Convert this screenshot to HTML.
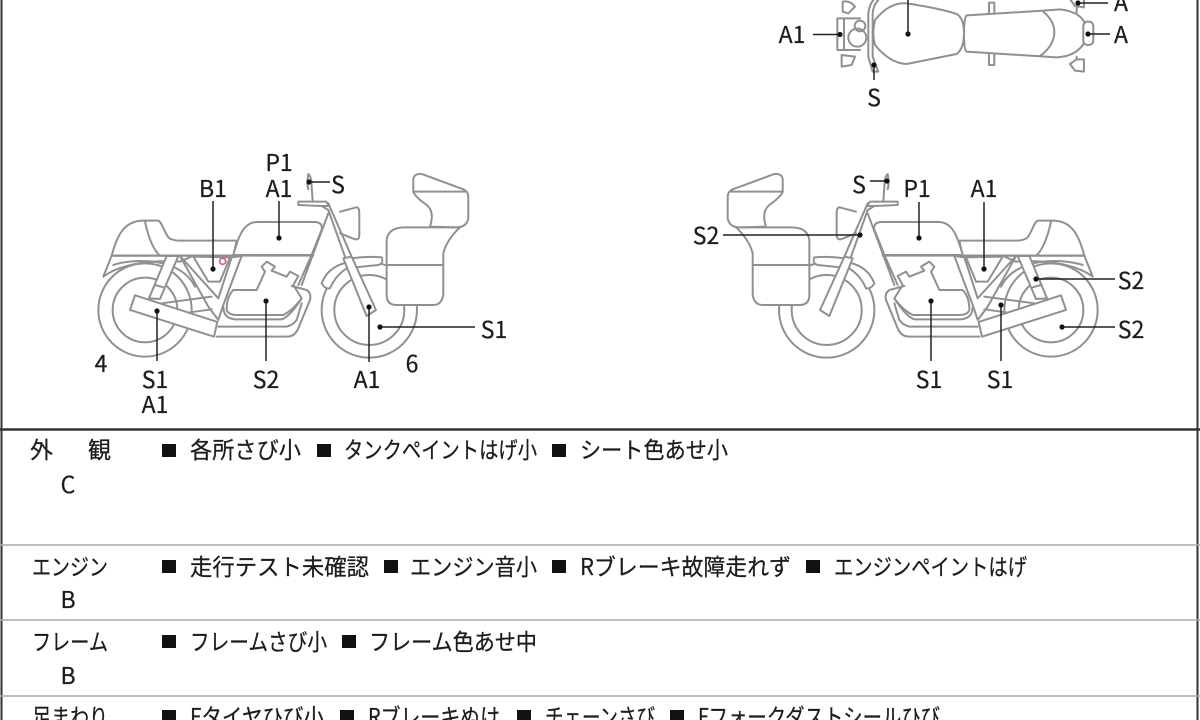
<!DOCTYPE html>
<html lang="ja"><head><meta charset="utf-8"><title>車両状態図</title>
<style>
html,body{margin:0;padding:0;background:#fff;width:1200px;height:720px;overflow:hidden}
svg{display:block}
.d{fill:none;stroke:#909090;stroke-width:6;stroke-linejoin:round;stroke-linecap:round}
.w{fill:#fff}
.l{stroke:#222;stroke-width:1.5;fill:none}
.j{font-family:"Noto Sans CJK JP","Liberation Sans",sans-serif;font-size:23px;fill:#1c1c1c;stroke:#1c1c1c;stroke-width:.25}
</style></head><body>
<svg width="1200" height="720" viewBox="0 0 1200 720" xmlns="http://www.w3.org/2000/svg">
<defs>
<g id="bike">
  <circle class="d" cx="195" cy="480" r="140"/>
  <circle class="d" cx="195" cy="480" r="97"/>
  <circle class="d" cx="868" cy="480" r="143"/>
  <circle class="d" cx="868" cy="480" r="105"/>
  <path class="d w" d="M70,380 L95,317 H340 L300,335 C240,330 130,335 70,380Z" />
  <path class="d" d="M100,345 C160,325 300,320 345,410"/>
  <path class="d w" d="M95,317 C110,260 130,215 185,212 L235,212 C245,215 250,240 265,262 Q275,272 300,272 L470,272 L460,317Z"/>
  <path class="d" d="M195,215 C205,260 220,300 240,317"/>
  <path class="d w" d="M260,318 L207,445 L240,447 L295,318Z"/>
  <path class="d" d="M225,405 L250,412"/>
  <path class="d w" d="M300,318 L415,445 L455,322 L485,318 L430,465 L415,510 L385,470Z"/>
  <path class="d w" d="M340,320 L385,395 L420,395 L450,322Z"/>
  <path class="d" d="M95,317 H700"/>
  <path class="d" d="M245,460 L395,440 M310,490 L395,478"/>
  <path class="d w" d="M460,315 C475,260 490,218 530,216 L705,216 Q730,218 725,240 L695,315Z"/>
  <path class="d" d="M745,190 L665,405 M725,240 L695,315 L655,405"/>
  <path class="d w" d="M815,325 Q860,318 905,322 Q912,340 895,345 L825,352Z"/>
  <path class="d w" d="M725,400 Q745,350 800,338 L810,350 Q770,370 750,415 Q735,418 725,400Z"/>
  <path class="d" d="M780,185 L830,172 Q838,172 838,190 L838,255 Q838,270 825,268 L780,250"/>
  <path class="d" d="M745,160 L815,320 M725,168 L745,180 L795,320"/>
  <path class="d w" d="M790,325 L815,320 L888,480 L860,498Z"/>
  <path class="d w" d="M655,155 H738 L748,168 H725 L655,165Z"/>
  <path class="d" d="M685,72 Q695,80 695,110 L698,152 M685,72 Q680,100 685,118"/>
  <path class="d w" d="M460,420 L530,420 L555,365 L545,350 L560,335 L585,350 L575,362 L620,380 L630,365 L655,378 L640,405 L665,445 Q640,480 610,495 L470,495 Q445,495 440,480 Q440,440 460,420Z"/>
  <path class="d" d="M430,470 Q430,505 465,508 L605,508 Q630,500 665,445"/>
  <path class="d" d="M415,530 L620,530 Q640,525 650,510 L665,460"/>
  <path class="d" d="M635,408 L680,420 Q695,430 690,450 L655,535 Q645,560 620,560 L410,560"/>
  <path class="d w" d="M165,436 L412,516 L402,560 L150,480 Z"/>
  <path class="d w" d="M920,270 Q925,232 975,232 L1140,232 Q1100,270 1090,310 L1090,435 Q1085,465 1060,465 L950,465 Q920,465 920,435 Z"/>
  <path class="d" d="M920,345 H1090"/>
  <path class="d w" d="M1000,85 Q1005,70 1025,72 L1150,118 Q1165,125 1165,140 L1165,205 Q1160,232 1130,232 L1050,230 Q1065,185 1040,165 Q1005,140 1000,125Z"/>
  <path class="d" d="M1000,125 H1155"/>
</g>
</defs>

<rect width="1200" height="720" fill="#fff"/>
<g transform="translate(80,150) scale(.3333)"><use href="#bike"/>
  <circle cx="428" cy="334" r="9" fill="none" stroke="#d4606e" stroke-width="5"/></g>
<g transform="translate(1116,150) scale(-.3333,.3333)"><use href="#bike"/></g>

<!-- top view -->
<g transform="translate(760,0) scale(.3333)">
  <path class="d w" d="M248,5 Q270,0 285,20 L265,40 L248,35Z M245,165 L285,170 L275,195 L245,200Z"/>
  <path class="d w" d="M232,55 H252 V150 H232Z"/>
  <path class="d" d="M252,55 H300 M252,150 H300"/>
  <circle class="d w" cx="292" cy="113" r="27"/>
  <circle class="d" cx="300" cy="78" r="16"/>
  <path class="d" d="M325,40 L325,170 L338,215 L355,215 L345,190 L338,170 L338,40 Q340,15 355,0 M325,40 Q328,15 340,0"/>
  <path class="d w" d="M345,60 Q390,5 440,10 Q540,25 590,42 Q612,55 612,100 Q612,145 590,162 L440,192 Q390,190 345,135 Q335,100 345,60Z"/>
  <path class="d w" d="M687,8 H703 V195 H687Z"/>
  <path class="d w" d="M620,46 L850,32 L900,28 Q960,35 975,70 L975,125 Q950,170 890,172 L620,155 Q612,150 612,100 Q612,55 620,46Z"/>
  <path class="d" d="M850,35 Q885,65 883,100 Q880,140 840,168"/>
  <rect class="d w" x="970" y="65" width="30" height="70" rx="13"/>
  <path class="d" d="M932,0 L945,18 L972,22 V0 M950,22 V38 M950,170 V178 L930,192 L945,212 L972,215 V178 L950,178"/>
</g>

<!-- leaders -->
<g class="l">
  <path d="M309,182H330M213,201V269M279,201V238M380,327H475M369,307V362M266,301V361M157,311V361"/>
  <path d="M870,181H887M919,202V238M984,202V269M723,235H860M1036,279H1115M1062,327H1115M931,301V361M1001,305V361"/>
  <path d="M813,34.5H840M908,0V34M874,65V80M1088,34H1110M1078,3H1108"/>
</g>
<g fill="#111">
  <circle cx="309" cy="182" r="2.6"/><circle cx="213" cy="269" r="2.6"/><circle cx="279" cy="238" r="2.6"/><circle cx="380" cy="327" r="2.6"/><circle cx="369" cy="307" r="2.6"/><circle cx="266" cy="301" r="2.6"/><circle cx="157" cy="311" r="2.6"/>
  <circle cx="887" cy="181" r="2.6"/><circle cx="919" cy="238" r="2.6"/><circle cx="984" cy="269" r="2.6"/><circle cx="860" cy="235" r="2.6"/><circle cx="1036" cy="279" r="2.6"/><circle cx="1062" cy="327" r="2.6"/><circle cx="931" cy="301" r="2.6"/><circle cx="1001" cy="305" r="2.6"/>
  <circle cx="840" cy="34.5" r="2.6"/><circle cx="908" cy="34" r="2.6"/><circle cx="874" cy="65" r="2.6"/><circle cx="1088" cy="34" r="2.6"/><circle cx="1078" cy="3" r="2.6"/>
</g>

<!-- labels -->
<g class="j">
  <text x="279" y="171" text-anchor="middle">P1</text><text x="279" y="197" text-anchor="middle">A1</text>
  <text x="213" y="197" text-anchor="middle">B1</text><text x="338" y="193" text-anchor="middle">S</text>
  <text x="494" y="338" text-anchor="middle">S1</text><text x="367" y="388" text-anchor="middle">A1</text>
  <text x="266" y="388" text-anchor="middle">S2</text><text x="155" y="388" text-anchor="middle">S1</text>
  <text x="155" y="413" text-anchor="middle">A1</text><text x="101" y="372" text-anchor="middle">4</text>
  <text x="412" y="372" text-anchor="middle">6</text>
  <text x="859" y="193" text-anchor="middle">S</text><text x="917" y="197" text-anchor="middle">P1</text>
  <text x="984" y="197" text-anchor="middle">A1</text><text x="706" y="244" text-anchor="middle">S2</text>
  <text x="1131" y="289" text-anchor="middle">S2</text><text x="1131" y="338" text-anchor="middle">S2</text>
  <text x="929" y="388" text-anchor="middle">S1</text><text x="1000" y="388" text-anchor="middle">S1</text>
  <text x="792" y="43" text-anchor="middle">A1</text><text x="874" y="106" text-anchor="middle">S</text>
  <text x="1121" y="43" text-anchor="middle">A</text><text x="1121" y="11" text-anchor="middle">A</text>
</g>

<!-- table lines -->
<path d="M1.5,0V720" stroke="#333" stroke-width="2" fill="none"/>
<path d="M1197.5,0V720" stroke="#333" stroke-width="2" fill="none"/>
<path d="M0,429.5H1200" stroke="#333" stroke-width="2.5" fill="none"/>
<path d="M0,545H1200M0,620H1200M0,696H1200" stroke="#aaa" stroke-width="1.5" fill="none"/>

<!-- squares -->
<g fill="#111">
  <rect x="162" y="444" width="14" height="13"/><rect x="317" y="444" width="14" height="13"/><rect x="552" y="444" width="14" height="13"/>
  <rect x="162" y="560" width="14" height="13"/><rect x="384" y="560" width="14" height="13"/><rect x="552" y="560" width="14" height="13"/><rect x="806" y="560" width="14" height="13"/>
  <rect x="162" y="635" width="14" height="13"/><rect x="342" y="635" width="14" height="13"/>
  <rect x="162" y="710" width="14" height="13"/><rect x="340" y="710" width="14" height="13"/><rect x="517" y="710" width="14" height="13"/><rect x="670" y="710" width="14" height="13"/>
</g>

<g class="j">
  <text x="30" y="458">外</text><text x="88" y="458">観</text><text x="68" y="493" text-anchor="middle">C</text>
  <text x="190" y="458" textLength="111" lengthAdjust="spacingAndGlyphs">各所さび小</text>
  <text x="344" y="458" textLength="193" lengthAdjust="spacingAndGlyphs">タンクペイントはげ小</text>
  <text x="580" y="458" textLength="148" lengthAdjust="spacingAndGlyphs">シート色あせ小</text>

  <text x="32" y="575" textLength="76" lengthAdjust="spacingAndGlyphs">エンジン</text><text x="68" y="608" text-anchor="middle">B</text>
  <text x="190" y="575" textLength="179" lengthAdjust="spacingAndGlyphs">走行テスト未確認</text>
  <text x="410" y="575" textLength="127" lengthAdjust="spacingAndGlyphs">エンジン音小</text>
  <text x="580" y="575" textLength="211" lengthAdjust="spacingAndGlyphs">Rブレーキ故障走れず</text>
  <text x="834" y="575" textLength="193" lengthAdjust="spacingAndGlyphs">エンジンペイントはげ</text>

  <text x="32" y="650" textLength="76" lengthAdjust="spacingAndGlyphs">フレーム</text><text x="68" y="684" text-anchor="middle">B</text>
  <text x="190" y="650" textLength="137" lengthAdjust="spacingAndGlyphs">フレームさび小</text>
  <text x="369" y="650" textLength="168" lengthAdjust="spacingAndGlyphs">フレーム色あせ中</text>

  <text x="32" y="725" textLength="76" lengthAdjust="spacingAndGlyphs">足まわり</text>
  <text x="190" y="725" textLength="134" lengthAdjust="spacingAndGlyphs">Fタイヤひび小</text>
  <text x="368" y="725" textLength="132" lengthAdjust="spacingAndGlyphs">Rブレーキぬけ</text>
  <text x="545" y="725" textLength="110" lengthAdjust="spacingAndGlyphs">チェーンさび</text>
  <text x="698" y="725" textLength="242" lengthAdjust="spacingAndGlyphs">Fフォークダストシールひび</text>
</g>
</svg>
</body></html>
